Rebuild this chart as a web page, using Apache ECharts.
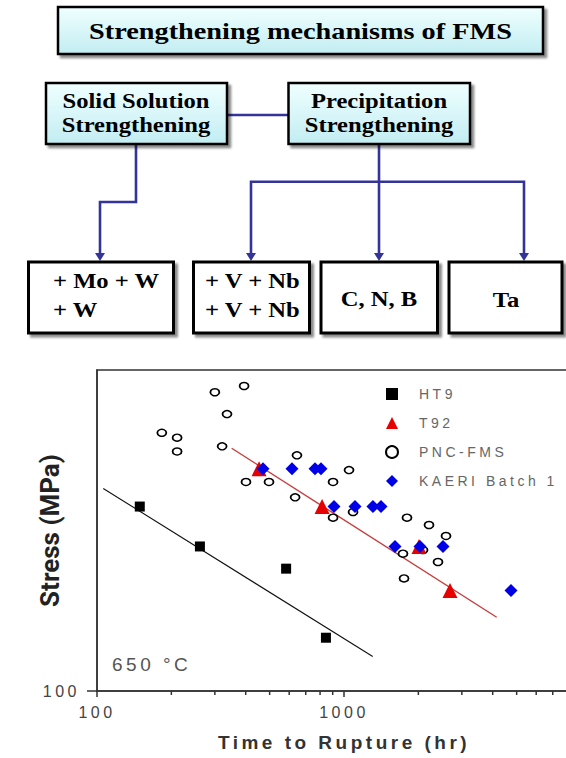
<!DOCTYPE html>
<html><head><meta charset="utf-8">
<script src="https://cdn.jsdelivr.net/npm/echarts@6/dist/echarts.min.js"></script>
<style>
html,body{margin:0;padding:0;background:#fff}
#c{width:566px;height:758px}
#c text[style*="Liberation Sans"]{letter-spacing:3.5px}
</style></head><body><div id="c"></div>
<script>
// ---- data ----
const xTickValues = [100, 1000];
const xMinorTickValues = [200, 300, 400, 500, 600, 700, 800, 900, 2000, 3000, 4000, 5000, 6000, 7000, 8000, 9000];
const yTickValues = [100];

const ht9Time = [149, 261, 583, 845];
const ht9Stress = [188, 164, 152, 120];
const ht9FitTime = [106, 1307];
const ht9FitStress = [200, 112.5];

const t92Time = [453, 815, 2012, 2686];
const t92Stress = [214, 188, 164, 141];
const t92FitTime = [351, 4151];
const t92FitStress = [229.5, 128.7];

const pncTime = [183, 211, 211, 300, 394, 336, 321, 401, 497, 634, 645, 903, 1048, 903, 1088, 1799, 2209, 2588, 1733, 2089, 2402, 1750];
const pncStress = [242, 238, 227, 278, 284, 258, 231, 204.5, 204.5, 194, 224, 204.5, 213, 181, 184.5, 181, 176.5, 170, 160, 162, 155.5, 147];

const kaeriTime = [470, 616, 763, 807, 911, 1108, 1310, 1412, 1609, 2031, 2517, 4744];
const kaeriStress = [214, 214, 214, 214, 188, 188, 188, 188, 164, 164, 164, 141];

const seriesNames = ['HT9', 'T92', 'PNC-FMS', 'KAERI Batch 1'];

const zip = (a, b) => a.map((v, i) => [v, b[i]]);

// ---- diagram (graphic elements) ----
const NAVY = '#333399';
const SX = 1.23;
const SERIF = '"Liberation Serif", "Times New Roman", serif';
const cyanFill = {type: 'linear', x: 0, y: 0, x2: 0, y2: 1,
  colorStops: [{offset: 0, color: '#f0ffff'}, {offset: 1, color: '#c2edf2'}]};
function box(x, y, w, h, fill, lw) {
  return {type: 'rect', shape: {x: x, y: y, width: w, height: h},
    style: {fill: fill, stroke: '#000', lineWidth: lw,
      shadowBlur: 2, shadowOffsetX: 3, shadowOffsetY: 3, shadowColor: 'rgba(0,0,0,0.45)'}, z: 10};
}
function txt(x, y, s, size, align) {
  return {type: 'text', x: x, y: y, scaleX: SX, z: 20,
    style: {text: s, font: 'bold ' + size + 'px ' + SERIF, fill: '#000',
      align: align || 'center', verticalAlign: 'middle'}};
}
function pline(pts) {
  return {type: 'polyline', shape: {points: pts}, z: 5,
    style: {stroke: NAVY, lineWidth: 2.6, fill: null}};
}
function head(x, yTip) {
  return {type: 'polygon', shape: {points: [[x - 5, yTip - 8], [x + 5, yTip - 8], [x, yTip]]}, z: 6,
    style: {fill: NAVY}};
}
const graphics = [
  box(58, 7, 485, 47, cyanFill, 2.5),
  txt(300.5, 31, 'Strengthening mechanisms of FMS', 23),
  box(46, 83, 181, 61, cyanFill, 2.5),
  txt(136, 101.5, 'Solid Solution', 20),
  txt(136, 125, 'Strengthening', 20),
  box(288.5, 83, 181.5, 61, cyanFill, 2.5),
  txt(379, 101.5, 'Precipitation', 20),
  txt(379, 125, 'Strengthening', 20),
  pline([[227, 115], [288.5, 115]]),
  pline([[136, 144], [136, 202], [100, 202], [100, 254]]), head(100, 261),
  pline([[379, 144], [379, 254]]), head(379, 261),
  pline([[251, 254], [251, 181.7], [524, 181.7], [524, 254]]), head(251, 261), head(524, 261),
  box(28.5, 262, 145, 71, '#fff', 3),
  txt(53, 281.5, '+ Mo + W', 20, 'left'),
  txt(53, 310, '+ W', 20, 'left'),
  box(193.5, 262, 116, 71, '#fff', 3),
  txt(205, 281.5, '+ V + Nb', 20, 'left'),
  txt(205, 310, '+ V + Nb', 20, 'left'),
  box(321, 262, 116.5, 71, '#fff', 3),
  txt(379, 299.5, 'C, N, B', 20),
  box(449, 262, 113, 71, '#fff', 3),
  txt(506, 300, 'Ta', 20),
  {type: 'text', x: 112, y: 664, z: 20,
    style: {text: '650 °C', font: '19px "Liberation Sans"', fill: '#555', align: 'left', verticalAlign: 'middle'}}
];

const SANS = 'Liberation Sans';
const chart = echarts.init(document.getElementById('c'), null, {renderer: 'svg'});
chart.setOption({
  animation: false,
  backgroundColor: '#fff',
  graphic: graphics,
  grid: {left: 97, top: 370, width: 494, height: 321, show: true, borderColor: '#333', borderWidth: 1.5,
    backgroundColor: 'transparent', containLabel: false, outerBoundsMode: 'none'},
  legend: {
    data: seriesNames, orient: 'vertical', left: 380, top: 382,
    itemWidth: 12, itemHeight: 12, itemGap: 15,
    textStyle: {fontFamily: SANS, fontSize: 14, color: '#666', padding: [0, 0, 0, 16]}
  },
  xAxis: {
    type: 'log', logBase: 10, min: 100, max: 10000,
    name: 'Time to Rupture (hr)', nameLocation: 'middle', nameGap: 42, nameMoveOverlap: false,
    nameTextStyle: {fontFamily: SANS, fontWeight: 'bold', fontSize: 19, color: '#333'},
    axisLine: {show: true, lineStyle: {color: '#333', width: 1.5}},
    axisTick: {show: true, customValues: xTickValues, length: 6, lineStyle: {color: '#333', width: 1.5}},
    axisLabel: {customValues: xTickValues, margin: 13, fontFamily: SANS, fontSize: 16, color: '#444',
      formatter: v => String(Math.round(v))},
    splitLine: {show: false}, minorSplitLine: {show: false}
  },
  yAxis: {
    type: 'log', logBase: 10, min: 100, max: 300,
    name: 'Stress (MPa)', nameLocation: 'middle', nameGap: 34, nameRotate: 90, nameMoveOverlap: false,
    nameTextStyle: {fontFamily: 'Roboto', fontWeight: 'bold', fontSize: 26, color: '#222'},
    axisLine: {show: true, lineStyle: {color: '#333', width: 1.5}},
    axisTick: {show: true, customValues: yTickValues, length: 10, lineStyle: {color: '#333', width: 1.5}},
    axisLabel: {customValues: yTickValues, margin: 17, fontFamily: SANS, fontSize: 16, color: '#444',
      formatter: v => String(Math.round(v))},
    splitLine: {show: false}
  },
  series: [
    {type: 'custom', name: 'minorTicks', silent: true, clip: false, z: 3,
      data: xMinorTickValues.map(v => [v, 100]),
      renderItem: (p, api) => {
        const pt = api.coord([api.value(0), 100]);
        return {type: 'line', shape: {x1: pt[0], y1: pt[1], x2: pt[0], y2: pt[1] + 4},
          style: {stroke: '#333', lineWidth: 1.5}};
      }},
    {type: 'line', name: 'HT9 fit', data: zip(ht9FitTime, ht9FitStress), symbol: 'none',
      lineStyle: {color: '#111', width: 1.1}, z: 2},
    {type: 'line', name: 'T92 fit', data: zip(t92FitTime, t92FitStress), symbol: 'none',
      lineStyle: {color: '#c83c3c', width: 1.4}, z: 2},
    {type: 'scatter', name: 'PNC-FMS', data: zip(pncTime, pncStress), symbol: 'circle', symbolSize: [9, 7],
      itemStyle: {color: '#fff', borderColor: '#000', borderWidth: 1.6, opacity: 1}, z: 3},
    {type: 'scatter', name: 'T92', data: zip(t92Time, t92Stress), symbol: 'triangle', symbolSize: 15,
      itemStyle: {color: '#e60000', opacity: 1}, z: 4},
    {type: 'scatter', name: 'KAERI Batch 1', data: zip(kaeriTime, kaeriStress), symbol: 'diamond', symbolSize: 13,
      itemStyle: {color: '#0000e6', opacity: 1}, z: 5},
    {type: 'scatter', name: 'HT9', data: zip(ht9Time, ht9Stress), symbol: 'rect', symbolSize: 10,
      itemStyle: {color: '#000', opacity: 1}, z: 5}
  ]
});
</script></body></html>
